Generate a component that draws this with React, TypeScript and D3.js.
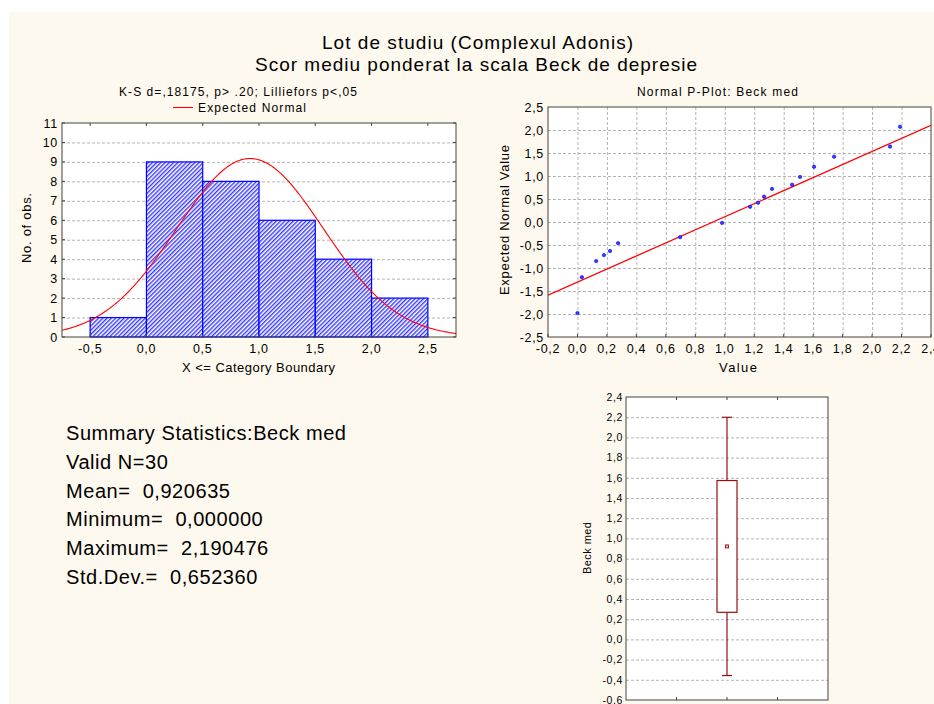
import * as d3 from "d3";

// histogram
const binEdges = [-0.5, 0, 0.5, 1, 1.5, 2, 2.5];
const binCounts = [1, 9, 8, 6, 4, 2];
const histXTicks = [-0.5, 0, 0.5, 1, 1.5, 2, 2.5];
const histYTicks = [0, 1, 2, 3, 4, 5, 6, 7, 8, 9, 10, 11];

// summary statistics
const nValid = 30;
const mean = 0.920635;
const minimum = 0;
const maximum = 2.190476;
const stdDev = 0.65236;

// normal probability plot
const ppValues = [0.0, 0.03, 0.127, 0.18, 0.221, 0.276, 0.697, 0.982, 1.172, 1.226, 1.267, 1.321, 1.457, 1.511, 1.606, 1.742, 2.122, 2.19];
const ppExpected = [-1.98, -1.2, -0.85, -0.72, -0.63, -0.46, -0.33, -0.02, 0.33, 0.42, 0.55, 0.72, 0.81, 0.98, 1.2, 1.42, 1.64, 2.07];
const ppFitX = [-0.2, 2.4];
const ppFitY = [-1.59, 2.1];
const ppXTicks = [-0.2, 0, 0.2, 0.4, 0.6, 0.8, 1, 1.2, 1.4, 1.6, 1.8, 2, 2.2, 2.4];
const ppYTicks = [-2.5, -2, -1.5, -1, -0.5, 0, 0.5, 1, 1.5, 2, 2.5];

// box plot
const boxYTicks = [-0.6, -0.4, -0.2, 0, 0.2, 0.4, 0.6, 0.8, 1, 1.2, 1.4, 1.6, 1.8, 2, 2.2, 2.4];

const FONT = "'Liberation Sans', Arial, sans-serif";
const GRID = "#b4b4b4";
const FRAME = "#444";
const BOXRED = "#9a0e0e";
const TICK = { fontSize: 12.5, letterSpacing: 0.7 };

const fmt1 = (v: number) => d3.format(".1f")(v).replace(".", ",").replace("−", "-");
const fmt6 = (v: number) => d3.format(".6f")(v).replace(".", ",");

function Frame({ x0, x1, y0, y1 }: { x0: number; x1: number; y0: number; y1: number }) {
  return <rect x={x0} y={y0} width={x1 - x0} height={y1 - y0} fill="none" stroke={FRAME} strokeWidth={1} />;
}

function Histogram() {
  const x = d3.scaleLinear().domain([-0.75, 2.75]).range([62, 456]);
  const y = d3.scaleLinear().domain([0, 11]).range([337, 123]);
  const [x0, x1] = x.range();
  const [y0, y1] = y.range();
  const pdf = (v: number) =>
    (nValid * 0.5 * Math.exp(-0.5 * ((v - mean) / stdDev) ** 2)) / (stdDev * Math.sqrt(2 * Math.PI));
  const curve = d3.line<number>().x((v) => x(v)).y((v) => y(pdf(v)));
  const curveXs = d3.range(-0.75, 2.7501, 0.01);
  return (
    <g>
      <rect x={x0} y={y1} width={x1 - x0} height={y0 - y1} fill="#fff" />
      {histYTicks.slice(1, -1).map((t) => (
        <line key={t} x1={x0} x2={x1} y1={y(t) + 0.5} y2={y(t) + 0.5} stroke={GRID} strokeDasharray="3,2" />
      ))}
      {binCounts.map((c, i) => (
        <rect
          key={i}
          x={x(binEdges[i])}
          y={y(c)}
          width={x(binEdges[i + 1]) - x(binEdges[i])}
          height={y(0) - y(c)}
          fill="url(#hatch)"
          stroke="#0000ff"
          strokeWidth={1.2}
        />
      ))}
      <clipPath id="hclip">
        <rect x={x0} y={y1} width={x1 - x0} height={y0 - y1} />
      </clipPath>
      <path d={curve(curveXs) || ""} fill="none" stroke="#ff0000" strokeWidth={1.1} clipPath="url(#hclip)" />
      <Frame x0={x0} x1={x1} y0={y1} y1={y0} />
      {histYTicks.map((t) => (
        <g key={t}>
          <line x1={x0} x2={x0 + 3} y1={y(t)} y2={y(t)} stroke={FRAME} />
          <line x1={x1} x2={x1 - 3} y1={y(t)} y2={y(t)} stroke={FRAME} />
          <text x={x0 - 4} y={y(t)} dy="0.36em" textAnchor="end" {...TICK}>
            {t}
          </text>
        </g>
      ))}
      {histXTicks.map((t) => (
        <g key={t}>
          <line x1={x(t)} x2={x(t)} y1={y0} y2={y0 - 3} stroke={FRAME} />
          <line x1={x(t)} x2={x(t)} y1={y1} y2={y1 + 3} stroke={FRAME} />
          <text x={x(t)} y={353} textAnchor="middle" {...TICK}>
            {fmt1(t)}
          </text>
        </g>
      ))}
      <text x={182} y={372} fontSize={13} textLength={153} lengthAdjust="spacing">
        X &lt;= Category Boundary
      </text>
      <text transform="translate(31,263) rotate(-90)" fontSize={13} textLength={70} lengthAdjust="spacing">
        No. of obs.
      </text>
      <text x={119} y={96} fontSize={12} textLength={238} lengthAdjust="spacing">
        K-S d=,18175, p&gt; .20; Lilliefors p&lt;,05
      </text>
      <line x1={173} x2={193} y1={107.5} y2={107.5} stroke="#ff0000" strokeWidth={1.1} />
      <text x={198} y={112} fontSize={12} textLength={108} lengthAdjust="spacing">
        Expected Normal
      </text>
    </g>
  );
}

function PPlot() {
  const x = d3.scaleLinear().domain([-0.2, 2.4]).range([548, 931]);
  const y = d3.scaleLinear().domain([-2.5, 2.5]).range([337, 107]);
  const [x0, x1] = x.range();
  const [y0, y1] = y.range();
  const fit = d3.line<number>().x((v) => x(v)).y((_, i) => y(ppFitY[i]));
  return (
    <g>
      <rect x={x0} y={y1} width={x1 - x0} height={y0 - y1} fill="#fff" />
      {ppYTicks.slice(1, -1).map((t) => (
        <line key={t} x1={x0} x2={x1} y1={y(t) + 0.5} y2={y(t) + 0.5} stroke={GRID} strokeDasharray="3,2" />
      ))}
      {ppXTicks.slice(1, -1).map((t) => (
        <line key={t} x1={x(t) + 0.5} x2={x(t) + 0.5} y1={y1} y2={y0} stroke={GRID} strokeDasharray="3,2" />
      ))}
      <clipPath id="pclip">
        <rect x={x0} y={y1} width={x1 - x0} height={y0 - y1} />
      </clipPath>
      <path d={fit(ppFitX) || ""} fill="none" stroke="#ff0000" strokeWidth={1.3} clipPath="url(#pclip)" />
      {ppValues.map((v, i) => (
        <circle key={i} cx={x(v)} cy={y(ppExpected[i])} r={1.7} fill="#3a3aff" stroke="#0000ff" strokeWidth={0.6} />
      ))}
      <Frame x0={x0} x1={x1} y0={y1} y1={y0} />
      {ppYTicks.map((t) => (
        <text key={t} x={x0 - 4} y={y(t)} dy="0.36em" textAnchor="end" {...TICK}>
          {fmt1(t)}
        </text>
      ))}
      {ppXTicks.map((t) => (
        <g key={t}>
          <line x1={x(t)} x2={x(t)} y1={y0} y2={y0 - 3} stroke={FRAME} />
          <text x={x(t)} y={353} textAnchor="middle" {...TICK}>
            {fmt1(t)}
          </text>
        </g>
      ))}
      <text x={719} y={372} fontSize={13} textLength={38} lengthAdjust="spacing">
        Value
      </text>
      <text transform="translate(509,295) rotate(-90)" fontSize={13} textLength={150} lengthAdjust="spacing">
        Expected Normal Value
      </text>
      <text x={637} y={96} fontSize={12} textLength={161} lengthAdjust="spacing">
        Normal P-Plot: Beck med
      </text>
    </g>
  );
}

function BoxPlot() {
  const x = d3.scaleLinear().domain([0, 4]).range([626, 828]);
  const y = d3.scaleLinear().domain([-0.6, 2.4]).range([700, 397]);
  const [x0, x1] = x.range();
  const [y0, y1] = y.range();
  const cx = x(2);
  const boxTop = mean + stdDev;
  const boxBot = mean - stdDev;
  const whTop = mean + 1.96 * stdDev;
  const whBot = mean - 1.96 * stdDev;
  return (
    <g>
      <rect x={x0} y={y1} width={x1 - x0} height={y0 - y1} fill="#fff" />
      {boxYTicks.slice(1, -1).map((t) => (
        <line key={t} x1={x0} x2={x1} y1={y(t) + 0.5} y2={y(t) + 0.5} stroke={GRID} strokeDasharray="3,2" />
      ))}
      <line x1={cx} x2={cx} y1={y(whTop)} y2={y(whBot)} stroke={BOXRED} strokeWidth={1.2} />
      <line x1={cx - 5} x2={cx + 5} y1={y(whTop)} y2={y(whTop)} stroke={BOXRED} strokeWidth={1.2} />
      <line x1={cx - 5} x2={cx + 5} y1={y(whBot)} y2={y(whBot)} stroke={BOXRED} strokeWidth={1.2} />
      <rect x={cx - 10} y={y(boxTop)} width={20} height={y(boxBot) - y(boxTop)} fill="#fff" stroke={BOXRED} strokeWidth={1.2} />
      <rect x={cx - 1.5} y={y(mean) - 1.5} width={3} height={3} fill="#e8c0c0" stroke={BOXRED} strokeWidth={0.9} />
      <Frame x0={x0} x1={x1} y0={y1} y1={y0} />
      {boxYTicks.map((t) => (
        <text key={t} x={x0 - 3} y={y(t)} dy="0.36em" textAnchor="end" fontSize={10.5} letterSpacing={0.6}>
          {fmt1(t)}
        </text>
      ))}
      {[1, 2, 3].map((t) => (
        <g key={t}>
          <line x1={x(t)} x2={x(t)} y1={y1} y2={y1 + 3} stroke={FRAME} />
          <line x1={x(t)} x2={x(t)} y1={y0} y2={y0 - 3} stroke={FRAME} />
        </g>
      ))}
      <text transform="translate(591,574) rotate(-90)" fontSize={11} textLength={52} lengthAdjust="spacing">
        Beck med
      </text>
    </g>
  );
}

function Summary() {
  const lines = [
    "Summary Statistics:Beck med",
    `Valid N=${nValid}`,
    `Mean=  ${fmt6(mean)}`,
    `Minimum=  ${fmt6(minimum)}`,
    `Maximum=  ${fmt6(maximum)}`,
    `Std.Dev.=  ${fmt6(stdDev)}`,
  ];
  return (
    <g>
      {lines.map((l, i) => (
        <text key={i} x={66} y={440 + i * 28.8} fontSize={20} letterSpacing={0.55} style={{ whiteSpace: "pre" }}>
          {l}
        </text>
      ))}
    </g>
  );
}

export default function App() {
  return (
    <svg
      width={934}
      height={704}
      style={{ position: "absolute", left: 0, top: 0, fontFamily: FONT }}
      fill="#000"
    >
      <defs>
        <pattern id="hatch" patternUnits="userSpaceOnUse" width={3} height={3} patternTransform="rotate(45)">
          <rect width={3} height={3} fill="#fff" />
          <rect width={1.4} height={3} fill="#3636ff" />
        </pattern>
      </defs>
      <rect width={934} height={704} fill="#fff" />
      <rect x={9} y={12} width={925} height={692} fill="#fef9ee" />
      <text x={322} y={49} fontSize={19} textLength={311} lengthAdjust="spacing">
        Lot de studiu (Complexul Adonis)
      </text>
      <text x={255} y={71} fontSize={19} textLength={442} lengthAdjust="spacing">
        Scor mediu ponderat la scala Beck de depresie
      </text>
      <Histogram />
      <PPlot />
      <BoxPlot />
      <Summary />
    </svg>
  );
}
